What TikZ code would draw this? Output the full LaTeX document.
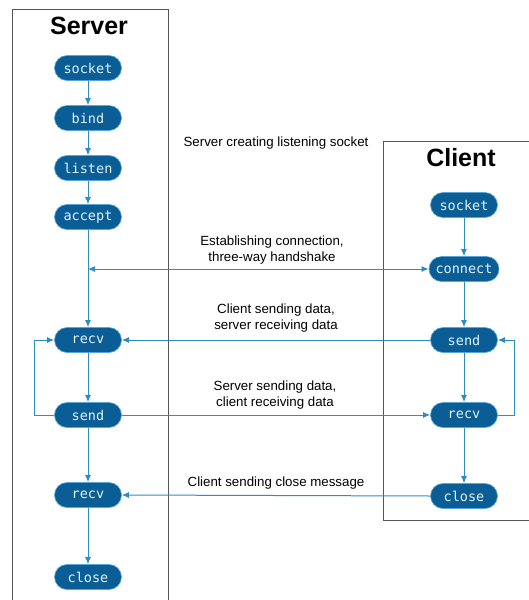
\documentclass[tikz,border=0pt]{standalone}
\usepackage{fontspec}
\setmainfont{Liberation Sans}
\setmonofont{DejaVu Sans Mono}
\usetikzlibrary{arrows.meta}
\definecolor{nodefill}{HTML}{0B5E95}
\definecolor{nodeedge}{HTML}{5AA5D6}
\definecolor{nodetext}{HTML}{E2F4FF}
\definecolor{linecol}{HTML}{2F8CC2}
\definecolor{boxcol}{HTML}{555555}
\tikzset{
  stepbox/.style={draw=nodeedge, line width=0.6pt, fill=nodefill, text=nodetext,
    rounded corners=12.5pt, minimum width=67pt, minimum height=25pt, inner sep=2pt,
    font=\ttfamily\fontsize{13.5}{15}\selectfont},
  arr/.style={draw=linecol, line width=1pt, -{Latex[length=7pt,width=6pt]}},
  biarr/.style={draw=linecol, line width=1pt, {Latex[length=7pt,width=6pt]}-{Latex[length=7pt,width=6pt]}},
  frame/.style={draw=boxcol, line width=0.8pt},
  lbl/.style={align=center, font=\fontsize{13.3}{15.8}\selectfont, inner sep=0pt},
  title/.style={font=\bfseries\fontsize{25}{28}\selectfont, inner sep=0pt}
}
\begin{document}
\begin{tikzpicture}[x=1pt,y=-1pt]
\useasboundingbox (0,0) rectangle (528,600);
% frames
\draw[frame] (12,610) -- (12,9) -- (168,9) -- (168,610);
\draw[frame] (540,141) -- (383,141) -- (383,520) -- (540,520);
\node[title] (stitle) at (89,26) {Server};
\node[title] (ctitle) at (461,158) {Client};
% server nodes
\node[stepbox] (ssocket) at (88,68) {socket};
\node[stepbox] (sbind) at (88,118) {bind};
\node[stepbox] (slisten) at (88,168) {listen};
\node[stepbox] (saccept) at (88,217) {accept};
\node[stepbox] (srecva) at (88,340) {recv};
\node[stepbox] (ssend) at (88,415) {send};
\node[stepbox] (srecvb) at (88,495) {recv};
\node[stepbox] (sclose) at (88,577) {close};
% client nodes
\node[stepbox] (csocket) at (464,205) {socket};
\node[stepbox, minimum width=70pt] (cconnect) at (464,269) {connect};
\node[stepbox] (csend) at (464,340) {send};
\node[stepbox] (crecv) at (464,415) {recv};
\node[stepbox] (cclose) at (464,496) {close};
% server flow
\draw[arr] (ssocket) -- (sbind);
\draw[arr] (sbind) -- (slisten);
\draw[arr] (slisten) -- (saccept);
\draw[arr] (saccept) -- (srecva);
\draw[arr] (srecva) -- (ssend);
\draw[arr] (ssend) -- (srecvb);
\draw[arr] (srecvb) -- (sclose);
\draw[arr] (ssend.west) -- ++(-20,0) |- (srecva.west);
% client flow
\draw[arr] (csocket) -- (cconnect);
\draw[arr] (cconnect) -- (csend);
\draw[arr] (csend) -- (crecv);
\draw[arr] (crecv) -- (cclose);
\draw[arr] (crecv.east) -- ++(17,0) |- (csend.east);
% messages
\coordinate (hs) at (88,269);
\draw[biarr] (hs) -- (cconnect.west);
\draw[arr] (csend.west) -- (srecva.east);
\draw[arr] (ssend.east) -- (crecv.west);
\draw[arr] (cclose.west) -- (srecvb.east);
% labels
\node[lbl] (l1) at (276,143) {Server creating listening socket};
\node[lbl] (l2) at (272,250) {Establishing connection,\\three-way handshake};
\node[lbl] (l3) at (276,318) {Client sending data,\\server receiving data};
\node[lbl] (l4) at (275,395) {Server sending data,\\client receiving data};
\node[lbl] (l5) at (276,483) {Client sending close message};
\end{tikzpicture}
\end{document}
